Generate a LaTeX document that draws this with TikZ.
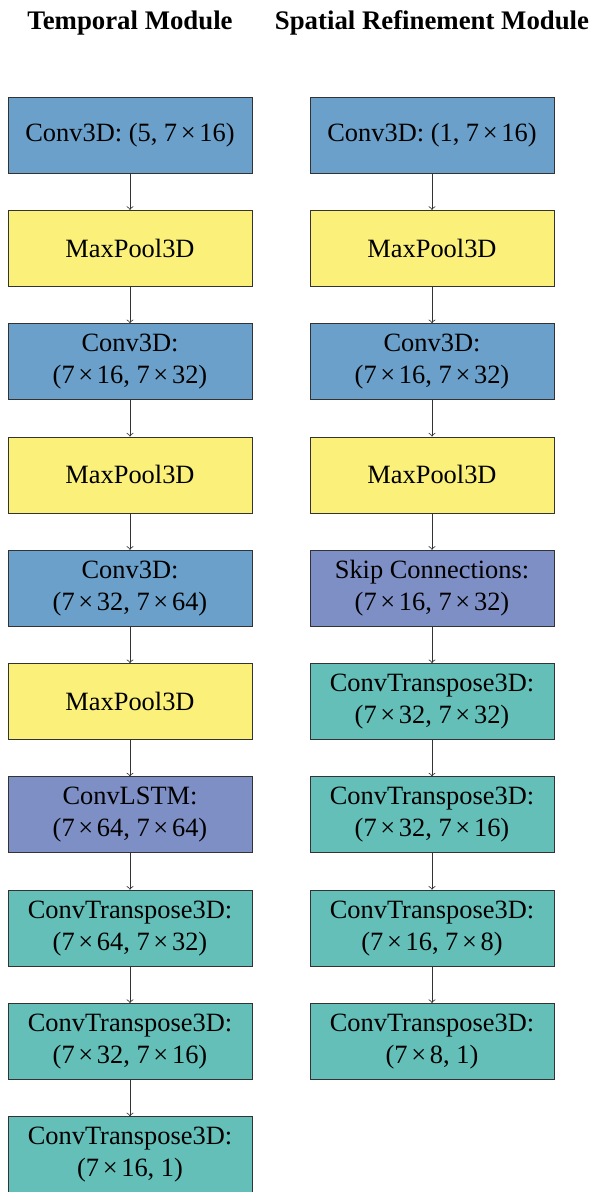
\documentclass[tikz,border=0pt]{standalone}
\usepackage{fontspec}
\setmainfont{Liberation Serif}

\definecolor{convblue}{RGB}{106,160,202}
\definecolor{poolyellow}{RGB}{250,240,122}
\definecolor{lstmpurple}{RGB}{126,143,197}
\definecolor{transteal}{RGB}{99,191,184}

\newcommand{\tms}{\hspace{0.14em}×\hspace{0.14em}}

\begin{document}
\begin{tikzpicture}[x=0.5pt,y=-0.5pt,font=\fontsize{13.2}{16}\selectfont]
\useasboundingbox (0,0) rectangle (592,1192);
\clip (0,0) rectangle (592,1192);

\node[font=\fontsize{13.4}{16}\selectfont\bfseries] (tTitle) at (130,23) {Temporal Module};
\node[font=\fontsize{13.4}{16}\selectfont\bfseries] (sTitle) at (432,23) {Spatial Refinement Module};

% temporal column
\begin{scope}[every node/.style={rectangle,draw=black!80,minimum width=122pt,minimum height=38pt,align=center,inner sep=2pt}]
    \node[fill=convblue] (T1) at (130,135) {Conv3D: (5, 7\tms16)};
    \node[fill=poolyellow] (T2) at (130,248.3) {MaxPool3D};
    \node[fill=convblue] (T3) at (130,361.6) {Conv3D:\\(7\tms16, 7\tms32)};
    \node[fill=poolyellow] (T4) at (130,474.9) {MaxPool3D};
    \node[fill=convblue] (T5) at (130,588.2) {Conv3D:\\(7\tms32, 7\tms64)};
    \node[fill=poolyellow] (T6) at (130,701.5) {MaxPool3D};
    \node[fill=lstmpurple] (T7) at (130,814.8) {ConvLSTM:\\(7\tms64, 7\tms64)};
    \node[fill=transteal] (T8) at (130,928.1) {ConvTranspose3D:\\(7\tms64, 7\tms32)};
    \node[fill=transteal] (T9) at (130,1041.4) {ConvTranspose3D:\\(7\tms32, 7\tms16)};
    \node[fill=transteal] (T10) at (130,1154.7) {ConvTranspose3D:\\(7\tms16, 1)};
\end{scope}

% spatial column
\begin{scope}[every node/.style={rectangle,draw=black!80,minimum width=122pt,minimum height=38pt,align=center,inner sep=2pt}]
    \node[fill=convblue] (S1) at (432,135) {Conv3D: (1, 7\tms16)};
    \node[fill=poolyellow] (S2) at (432,248.3) {MaxPool3D};
    \node[fill=convblue] (S3) at (432,361.6) {Conv3D:\\(7\tms16, 7\tms32)};
    \node[fill=poolyellow] (S4) at (432,474.9) {MaxPool3D};
    \node[fill=lstmpurple] (S5) at (432,588.2) {Skip Connections:\\(7\tms16, 7\tms32)};
    \node[fill=transteal] (S6) at (432,701.5) {ConvTranspose3D:\\(7\tms32, 7\tms32)};
    \node[fill=transteal] (S7) at (432,814.8) {ConvTranspose3D:\\(7\tms32, 7\tms16)};
    \node[fill=transteal] (S8) at (432,928.1) {ConvTranspose3D:\\(7\tms16, 7\tms8)};
    \node[fill=transteal] (S9) at (432,1041.4) {ConvTranspose3D:\\(7\tms8, 1)};
\end{scope}

\begin{scope}[every edge/.style={draw=black!80}]
    \foreach \a/\b in {1/2,2/3,3/4,4/5,5/6,6/7,7/8,8/9,9/10}
        \path [->] (T\a) edge (T\b);
    \foreach \a/\b in {1/2,2/3,3/4,4/5,5/6,6/7,7/8,8/9}
        \path [->] (S\a) edge (S\b);
\end{scope}
\end{tikzpicture}
\end{document}
